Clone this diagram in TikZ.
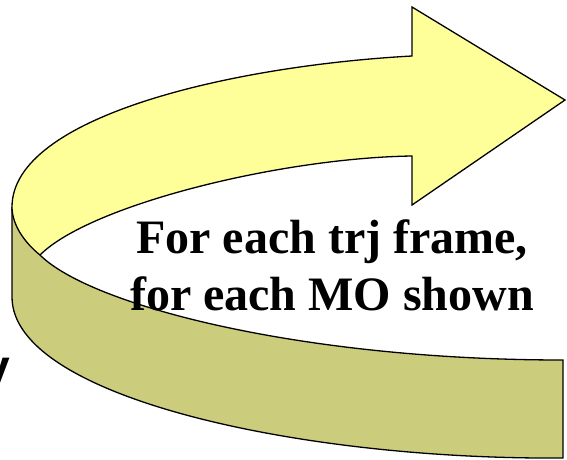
\documentclass[tikz,border=0pt]{standalone}
\usepackage{fontspec}
\setmainfont{Liberation Serif}
\newfontfamily\labelsans{Liberation Sans}
\definecolor{topface}{RGB}{255,255,153}
\definecolor{sideface}{RGB}{204,204,125}
\begin{document}
\begin{tikzpicture}[x=1pt,y=-1pt,
  face/.style={draw=black,line width=1.3pt,line join=miter},
  caption/.style={font=\fontsize{48}{57}\selectfont\bfseries,inner sep=0pt,anchor=base}]
\useasboundingbox (0,0) rectangle (567,460);

% named corners of the curved arrow
\coordinate (outerL) at (12,207);
\coordinate (innerL) at (40,255);
\coordinate (bandL)  at (12,297);
\coordinate (bandBR) at (563,458);
\coordinate (bandTR) at (563,360);
\coordinate (shaftT) at (412,56);
\coordinate (headT)  at (412,7);
\coordinate (tip)    at (565,100);
\coordinate (headB)  at (412,205);
\coordinate (shaftB) at (412,156);

% darker side band
\fill[sideface] (outerL) -- (bandL)
  .. controls (12,397) and (300,460) .. (bandBR) -- (bandTR)
  .. controls (300,360) and (90,305) .. (innerL)
  .. controls (25,243) and (12,225) .. (outerL) -- cycle;
\draw[face] (outerL) -- (bandL)
  .. controls (12,397) and (300,460) .. (bandBR) -- (bandTR)
  .. controls (300,360) and (90,305) .. (innerL);

% light top face with the arrow head
\draw[face,fill=topface] (innerL)
  .. controls (25,243) and (12,225) .. (outerL)
  .. controls (12,117) and (230,66) .. (shaftT)
  -- (headT) -- (tip) -- (headB) -- (shaftB)
  .. controls (280,158) and (90,205) .. (innerL) -- cycle;

% caption
\node[caption] (line1) at (332,253) {For each trj frame,};
\node[caption] (line2) at (332,310) {for each MO shown};

% letter cut by the left border
\node[font=\labelsans\fontsize{48}{57}\selectfont\bfseries,inner sep=0pt,anchor=base west] (edgey) at (-16.5,383) {y};
\end{tikzpicture}
\end{document}
